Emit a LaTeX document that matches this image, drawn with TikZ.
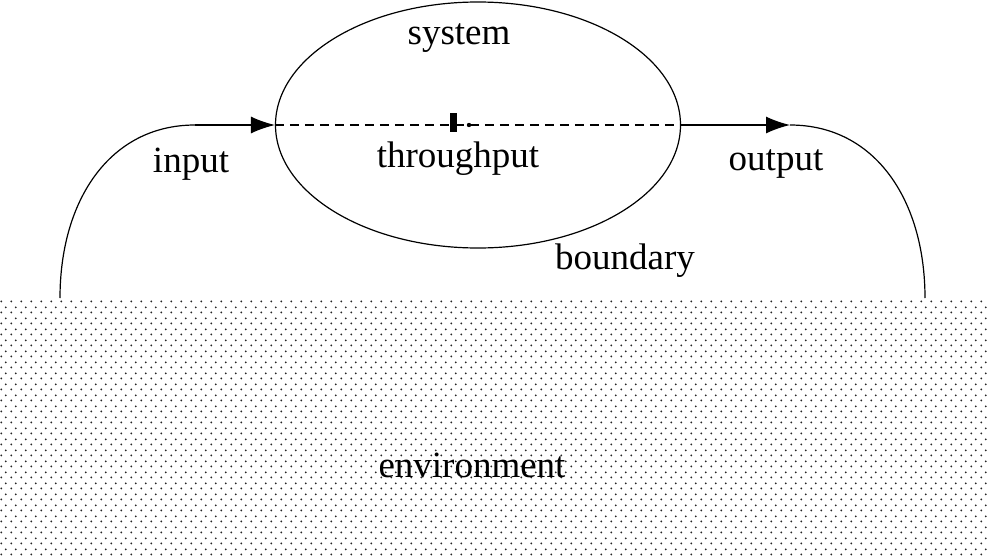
\documentclass[tikz,border=0pt]{standalone}
\usepackage{fontspec}
\setmainfont{Liberation Serif}
\usetikzlibrary{arrows.meta,patterns,shapes.geometric}
\pgfdeclarepatternformonly{envdots}{\pgfpointorigin}{\pgfpoint{10pt}{11pt}}{\pgfpoint{10pt}{11pt}}{%
  \pgfpathcircle{\pgfpoint{2.5pt}{2.75pt}}{1.1pt}%
  \pgfpathcircle{\pgfpoint{7.5pt}{8.25pt}}{1.1pt}%
  \pgfusepath{fill}}
\begin{document}
\begin{tikzpicture}[x=1pt,y=-1pt,
  lbl/.style={font=\fontsize{37}{40}\selectfont, inner sep=0pt},
  conn/.style={line width=1.2pt},
  tip/.style={-{Latex[length=24pt,width=17pt]}}]
\useasboundingbox (0,0) rectangle (989,557);
% environment
\fill[pattern=envdots, pattern color=black!85] (0,299) rectangle (989,557);
\node[lbl] (env) at (472,465) {environment};
% system ellipse
\node[draw, ellipse, minimum width=405pt, minimum height=246pt, inner sep=0pt, line width=1.2pt] (sys) at (478,125) {};
\node[lbl] (system) at (459,38) {system};
\node[lbl] (through) at (458,159) {throughput};
\node[lbl] (boundary) at (625,261) {boundary};
\node[lbl] (input) at (191,164) {input};
\node[lbl] (output) at (776,164) {output};
% connectors
\coordinate (envL) at (60,298);
\coordinate (inL) at (195,125);
\coordinate (outR) at (790,125);
\coordinate (envR) at (925,298);
\draw[conn] (envL) .. controls (60,200) and (110,125) .. (inL);
\draw[conn,tip] (inL) -- (sys.west);
\draw[conn,dashed,dash pattern=on 9pt off 6pt] (sys.west) -- (sys.east);
\draw[conn,tip] (sys.east) -- (outR);
\draw[conn] (outR) .. controls (875,125) and (925,200) .. (envR);
% throughput marker
\fill (450,113) rectangle (457,132);
\fill (469,125) circle (2.2pt);
\end{tikzpicture}
\end{document}
